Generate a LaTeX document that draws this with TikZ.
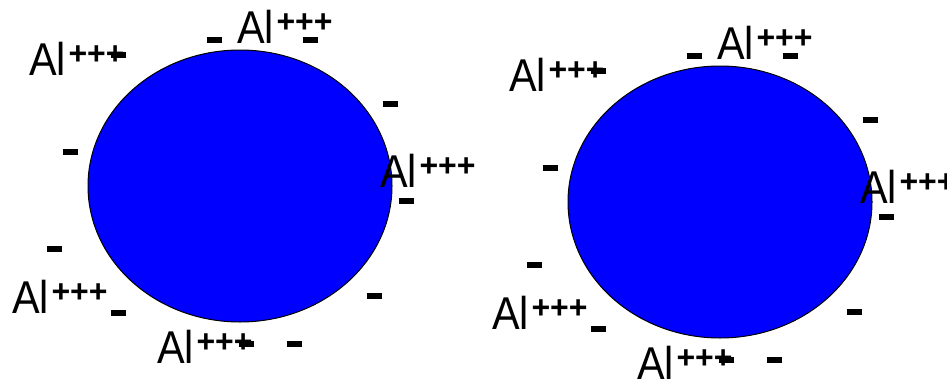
\documentclass[tikz,border=0pt]{standalone}
\usepackage{graphicx}
\usepackage{fontspec}
\setmainfont{Liberation Sans}
\definecolor{grainblue}{RGB}{0,0,255}
\newcommand{\alion}{\scalebox{0.9}[1]{Al}\kern2.5pt\raisebox{11pt}{\fontsize{32}{33}\selectfont\bfseries +++}}

\begin{document}
\begin{tikzpicture}[x=1pt, y=-1pt,
    grain/.style={draw=black, fill=grainblue, line width=1pt},
    ion/.style={anchor=base west, inner sep=0pt, font=\fontsize{46}{50}\selectfont},
    neg/.style={rectangle, fill=black, inner sep=0pt, minimum width=15pt, minimum height=5.5pt}]
  \clip (0,0) rectangle (947,380);

  % two grains, the second one shifted
  \foreach \dx/\dy/\g in {0/0/a, 480/16/b}{
    \begin{scope}[shift={(\dx,\dy)}]
      % grain
      \draw[grain] (240,186) ellipse [x radius=152, y radius=136];
      \coordinate (c\g) at (240,186);

      % Al ions
      \node[ion] (ionTL\g) at (29,75)  {\alion};
      \node[ion] (ionT\g)  at (237,43) {\alion};
      \node[ion] (ionR\g)  at (380,187) {\alion};
      \node[ion] (ionBL\g) at (12,313) {\alion};
      \node[ion] (ionB\g)  at (157,363) {\alion};

      % negative charges
      \node[neg] (m1\g)  at (214,40)  {};
      \node[neg] (m2\g)  at (310,40)  {};
      \node[neg] (m3\g)  at (118,55)  {};
      \node[neg] (m4\g)  at (390,104) {};
      \node[neg] (m5\g)  at (70,152)  {};
      \node[neg] (m6\g)  at (406,201) {};
      \node[neg] (m7\g)  at (54,249)  {};
      \node[neg] (m8\g)  at (374,296) {};
      \node[neg] (m9\g)  at (118,313) {};
      \node[neg] (m10\g) at (246,344) {};
      \node[neg] (m11\g) at (294,344) {};
    \end{scope}
  }
\end{tikzpicture}
\end{document}
